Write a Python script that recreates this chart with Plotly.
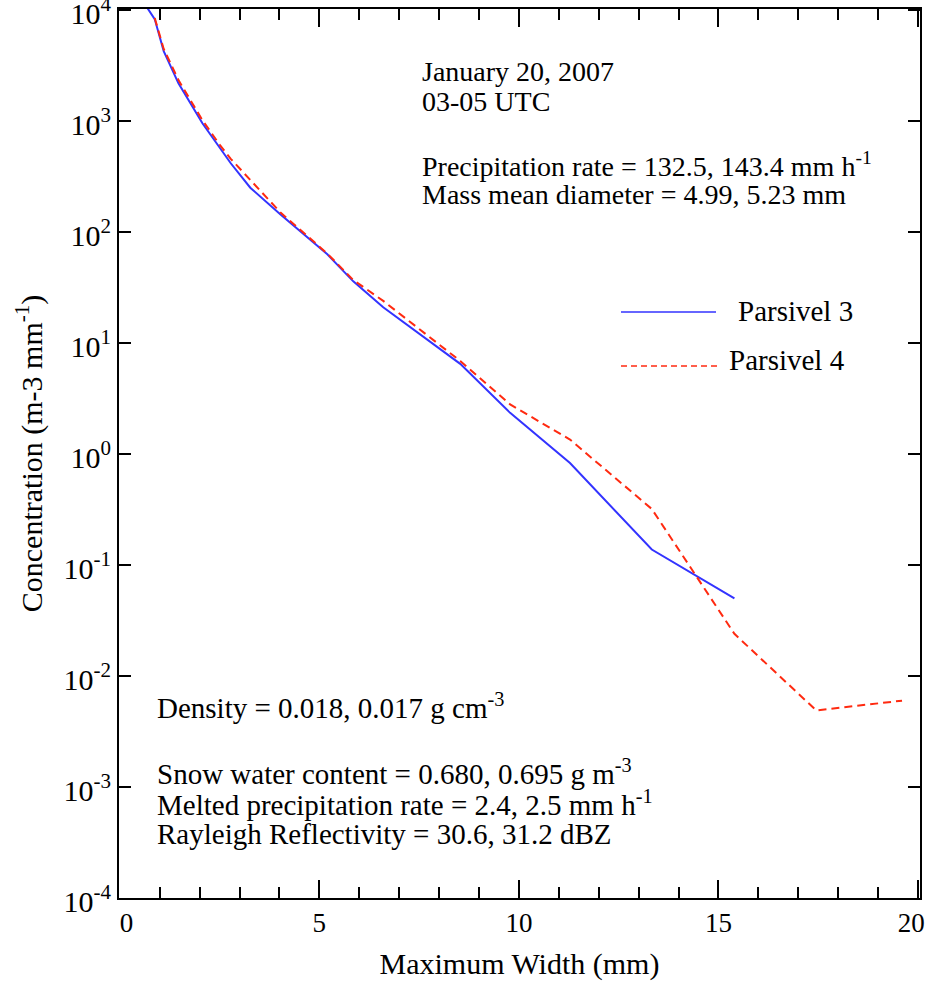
import plotly.graph_objects as go

# Parsivel 3 (blue, solid)
p3_x = [0.56, 0.875, 1.1, 1.47, 2.07, 2.52, 2.78, 3.27, 4.02, 5.2, 5.85, 6.6, 8.53, 9.78, 11.28, 13.33, 15.4]
p3_y = [12300, 8300, 4270, 2190, 955, 562, 417, 251, 145, 63, 36, 21, 6.5, 2.35, 0.83, 0.138, 0.050]

# Parsivel 4 (red, dashed)
p4_x = [0.875, 1.1, 1.47, 2.07, 2.52, 2.78, 3.27, 4.02, 5.2, 5.85, 6.6, 8.53, 9.78, 11.28, 13.33, 15.4, 17.45, 19.6]
p4_y = [8500, 4470, 2340, 1020, 600, 457, 295, 151, 64, 37, 24, 6.9, 2.8, 1.35, 0.32, 0.024, 0.0049, 0.006]

y_tickvals = [1e-4, 1e-3, 1e-2, 1e-1, 1e0, 1e1, 1e2, 1e3, 1e4]
y_ticktext = ["10<sup>-4</sup>", "10<sup>-3</sup>", "10<sup>-2</sup>", "10<sup>-1</sup>",
              "10<sup>0</sup>", "10<sup>1</sup>", "10<sup>2</sup>", "10<sup>3</sup>", "10<sup>4</sup>"]
x_tickvals = [0, 5, 10, 15, 20]
x_ticklabels = ["0", "5", "10", "15", "20"]

series_names = ["Parsivel 3", "Parsivel 4"]
colors = ["#3333ff", "#ff2a10"]

top_text = ["January 20, 2007", "03-05 UTC",
            "Precipitation rate = 132.5, 143.4 mm h<sup>-1</sup>",
            "Mass mean diameter = 4.99, 5.23 mm"]
bottom_text = ["Density = 0.018, 0.017 g cm<sup>-3</sup>",
               "Snow water content = 0.680, 0.695 g m<sup>-3</sup>",
               "Melted precipitation rate = 2.4, 2.5 mm h<sup>-1</sup>",
               "Rayleigh Reflectivity = 30.6, 31.2 dBZ"]

FONT = "Liberation Serif, Times New Roman, serif"
NB = "\u00a0"

# small padding so the end labels sit inside the page like the reference
x_ticktext = [NB * 2 + x_ticklabels[0]] + x_ticklabels[1:-1] + [x_ticklabels[-1] + NB * 2]

fig = go.Figure()
fig.add_trace(go.Scatter(x=p3_x, y=p3_y, mode="lines", name=series_names[0],
                         line=dict(color=colors[0], width=2), showlegend=False))
fig.add_trace(go.Scatter(x=p4_x, y=p4_y, mode="lines", name=series_names[1],
                         line=dict(color=colors[1], width=2, dash="8px,5px"), showlegend=False))

W, H = 927, 986
L, R, T, B = 119, 7, 9, 88
pw, ph = W - L - R, H - T - B

def px(x):  # pixel x -> paper
    return (x - L) / pw

def py(y):  # pixel y -> paper
    return 1 - (y - T) / ph

annotations = []
for t, yy in zip(top_text, [72, 102, 164, 195]):
    annotations.append(dict(x=px(420), y=py(yy), xref="paper", yref="paper", text=t,
                            showarrow=False, xanchor="left", yanchor="middle",
                            font=dict(family=FONT, size=28, color="black")))
for t, yy in zip(bottom_text, [706, 772, 803, 834]):
    annotations.append(dict(x=px(155), y=py(yy), xref="paper", yref="paper", text=t,
                            showarrow=False, xanchor="left", yanchor="middle",
                            font=dict(family=FONT, size=29, color="black")))
# legend texts
annotations.append(dict(x=px(736), y=py(311), xref="paper", yref="paper", text=series_names[0],
                        showarrow=False, xanchor="left", yanchor="middle",
                        font=dict(family=FONT, size=29, color="black")))
annotations.append(dict(x=px(727), y=py(360), xref="paper", yref="paper", text=series_names[1],
                        showarrow=False, xanchor="left", yanchor="middle",
                        font=dict(family=FONT, size=29, color="black")))

shapes = [
    dict(type="line", xref="paper", yref="paper", x0=px(621), x1=px(716), y0=py(312), y1=py(312),
         line=dict(color=colors[0], width=1.5)),
    dict(type="line", xref="paper", yref="paper", x0=px(621), x1=px(720), y0=py(366), y1=py(366),
         line=dict(color=colors[1], width=1.5, dash="6px,4px")),
]

fig.update_layout(
    width=W, height=H,
    margin=dict(l=L, r=R, t=T, b=B, autoexpand=False),
    plot_bgcolor="white", paper_bgcolor="white",
    font=dict(family=FONT, size=28, color="black"),
    annotations=annotations, shapes=shapes,
    xaxis=dict(range=[-0.02, 20.05], tickvals=x_tickvals, ticktext=x_ticktext,
               ticks="inside", ticklen=18, tickwidth=1.5,
               tickcolor="black", showline=True, linecolor="black", linewidth=2, mirror="ticks",
               showgrid=False, zeroline=False, ticklabeloverflow="allow", automargin=False,
               minor=dict(dtick=1, ticks="inside", ticklen=11, tickwidth=1.5, tickcolor="black", showgrid=False),
               tickfont=dict(family=FONT, size=27),
               title=dict(text="Maximum Width (mm)", font=dict(family=FONT, size=30), standoff=16)),
    yaxis=dict(type="log", range=[-4, 4.01], tickvals=y_tickvals, ticktext=y_ticktext,
               ticks="inside", ticklen=12, tickwidth=1.5, tickcolor="black",
               showline=True, linecolor="black", linewidth=2, mirror="ticks",
               showgrid=False, zeroline=False, tickfont=dict(family=FONT, size=30),
               ticklabeloverflow="allow", automargin=False, ticklabelshift=3,
               title=dict(text="Concentration (m-3 mm<sup>-1</sup>)", font=dict(family=FONT, size=30), standoff=12)),
)

fig.write_html("out.html")
